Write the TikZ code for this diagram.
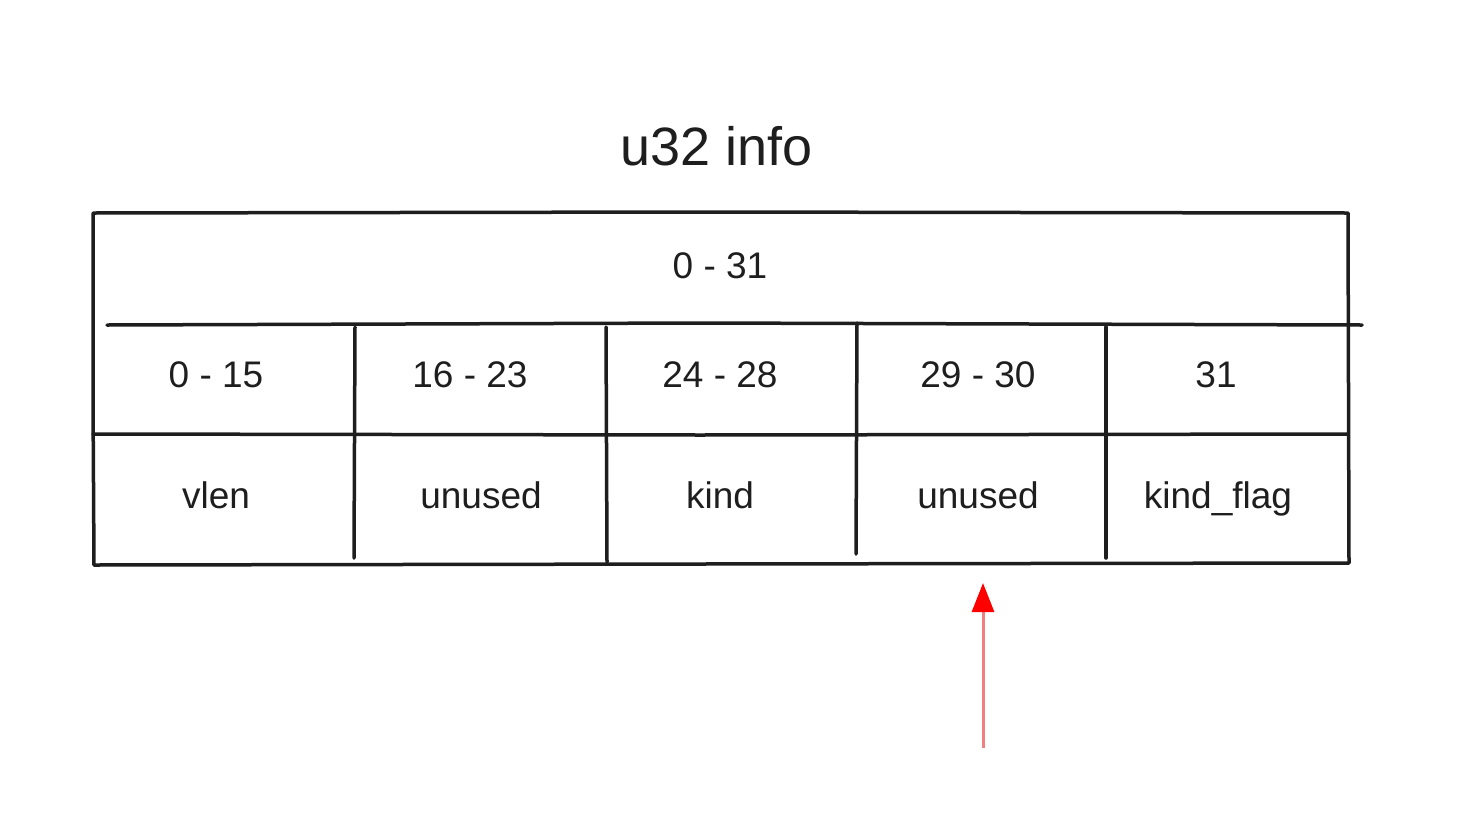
\documentclass[tikz,border=0pt]{standalone}
\usepackage{fontspec}
\setmainfont{Liberation Sans}
\usetikzlibrary{arrows.meta}
\definecolor{ink}{HTML}{1E1E1E}
\definecolor{shaft}{HTML}{F08080}
\begin{document}
\begin{tikzpicture}[x=1pt,y=-1pt,
  rule/.style={draw=ink,line width=3.5pt,line cap=round,line join=round},
  cell/.style={anchor=base,inner sep=0pt,text=ink,font=\fontsize{37}{40}\selectfont},
  title/.style={anchor=base,inner sep=0pt,text=ink,font=\fontsize{54}{58}\selectfont}]
\useasboundingbox[fill=white] (0,0) rectangle (1470,828);
% outer frame
\draw[rule] (93,213) -- (700,212) -- (1348,213) -- (1349,563) -- (700,564) -- (94,565) -- (93,400) -- cycle;
% horizontal rules
\draw[rule] (107,325) -- (700,323) -- (1362,325);
\draw[rule] (93,434) -- (700,435) -- (1347,434);
% column rules
\draw[rule] (355,327) -- (354,558);
\draw[rule] (606,327) -- (607,562);
\draw[rule] (857,323) -- (856,554);
\draw[rule] (1106,327) -- (1106,558);
% texts
\node[title] (t) at (717,165) {u32 info};
\node[cell] (all) at (720,278) {0 - 31};
\node[cell] (b1) at (216,387) {0 - 15};
\node[cell] (b2) at (470,387) {16 - 23};
\node[cell] (b3) at (720,387) {24 - 28};
\node[cell] (b4) at (978,387) {29 - 30};
\node[cell] (b5) at (1216,387) {31};
\node[cell] (f1) at (216,508) {vlen};
\node[cell] (f2) at (481,508) {unused};
\node[cell] (f3) at (720,508) {kind};
\node[cell] (f4) at (978,508) {unused};
\node[cell] (f5) at (1218,508) {kind\_flag};
% arrow
\coordinate (tail) at (983,748);
\coordinate (tip) at (983,583);
\draw[shaft,line width=3pt,-{Triangle[length=29pt,width=22pt,color=red,fill=red]}] (tail) -- (tip);
\end{tikzpicture}
\end{document}
